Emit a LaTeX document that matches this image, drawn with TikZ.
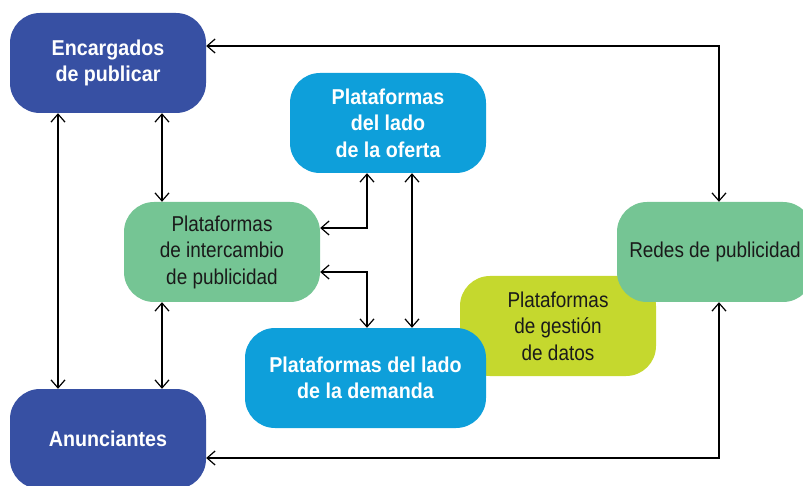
\documentclass[tikz,border=0pt]{standalone}
\usepackage{fontspec}
\setmainfont{Liberation Sans}[FakeStretch=0.88,BoldFeatures={FakeStretch=0.915}]
\usetikzlibrary{arrows.meta,calc}
\definecolor{dblue}{HTML}{3750A3}
\definecolor{lblue}{HTML}{0E9FDA}
\definecolor{mgreen}{HTML}{75C594}
\definecolor{lime}{HTML}{C5D82E}
\definecolor{txt}{HTML}{1A1A1A}
\tikzset{
  box/.style={rectangle,rounded corners=30pt,minimum width=196pt,minimum height=100pt,inner sep=0pt,align=center,
    font=\fontsize{21.5pt}{26.5pt}\selectfont},
  darkbox/.style={box,fill=dblue,text=white,font=\fontsize{21.5pt}{26.5pt}\selectfont\bfseries},
  bluebox/.style={box,fill=lblue,text=white,font=\fontsize{21.5pt}{26.5pt}\selectfont\bfseries},
  greenbox/.style={box,fill=mgreen,text=txt},
  limebox/.style={box,fill=lime,text=txt},
  link/.style={draw=black,line width=1.2pt,{Straight Barb[length=8pt,width=14pt,line width=1.2pt]}-{Straight Barb[length=8pt,width=14pt,line width=1.2pt]}}
}
\begin{document}
\begin{tikzpicture}[x=1pt,y=-1pt]
\useasboundingbox (0,0) rectangle (803,486);
\node[limebox] (ges) at (558,326) {Plataformas\\de gestión\\de datos};
\node[darkbox] (enc) at (108,63) {Encargados\\de publicar};
\node[darkbox] (anu) at (108,439) {Anunciantes};
\node[bluebox] (ofe) at (388,123) {Plataformas\\del lado\\de la oferta};
\node[greenbox] (int) at (222,252) {Plataformas\\de intercambio\\de publicidad};
\node[bluebox,minimum width=241pt] (dem) at (365.5,378) {Plataformas del lado\\de la demanda};
\node[greenbox] (red) at (715,252) {Redes de publicidad};
\coordinate (tc) at (719,46);
\coordinate (bc) at (719,458);
\coordinate (xl) at (58,0);
\coordinate (xm) at (162,0);
\coordinate (xr) at (367,0);
\coordinate (xv) at (412,0);
\coordinate (yu) at (0,228);
\coordinate (yd) at (0,272);
\draw[link] (enc.east |- tc) -| (red.north -| tc);
\draw[link] (anu.east |- bc) -| (red.south -| bc);
\draw[link] (enc.south -| xl) -- (anu.north -| xl);
\draw[link] (enc.south -| xm) -- (int.north -| xm);
\draw[link] (int.south -| xm) -- (anu.north -| xm);
\draw[link] (int.east |- yu) -| (ofe.south -| xr);
\draw[link] (int.east |- yd) -| (dem.north -| xr);
\draw[link] (ofe.south -| xv) -- (dem.north -| xv);
\end{tikzpicture}
\end{document}
